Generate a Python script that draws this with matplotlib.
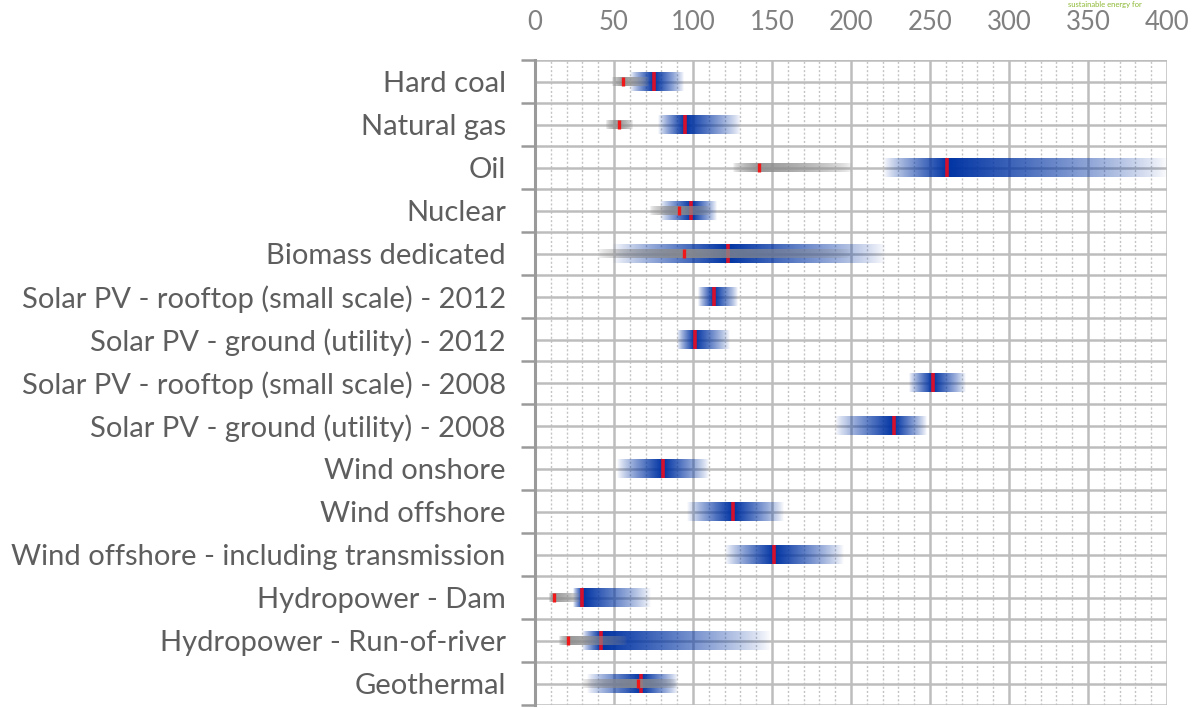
import numpy as np
import matplotlib.pyplot as plt
from matplotlib.colors import to_rgb

# technologies, top to bottom
categories = [
    "Hard coal", "Natural gas", "Oil", "Nuclear", "Biomass dedicated",
    "Solar PV - rooftop (small scale) - 2012",
    "Solar PV - ground (utility) - 2012",
    "Solar PV - rooftop (small scale) - 2008",
    "Solar PV - ground (utility) - 2008",
    "Wind onshore", "Wind offshore", "Wind offshore - including transmission",
    "Hydropower - Dam", "Hydropower - Run-of-river", "Geothermal",
]

# blue range: low, central, high
blue_lo = [60, 78, 220, 79, 49, 103, 90, 237, 190, 52, 96, 120, 24, 30, 33]
blue_mid = [75, 95, 261, 99, 122, 113, 101, 252, 227, 81, 125, 151, 30, 42, 67]
blue_hi = [94, 130, 400, 115, 222, 128, 123, 273, 248, 110, 157, 195, 73, 149, 90]

# grey range (nan = none)
nan = np.nan
grey_lo = [49, 45, 125, 73, 40, nan, nan, nan, nan, nan, nan, nan, 9, 15, 30]
grey_mid = [56, 53, 142, 91, 94, nan, nan, nan, nan, nan, nan, nan, 12, 21, 65]
grey_hi = [72, 62, 200, 111, 200, nan, nan, nan, nan, nan, nan, nan, 28, 58, 90]

x_ticks = [0, 50, 100, 150, 200, 250, 300, 350, 400]

plt.rcParams['font.family'] = ['Lato', 'DejaVu Sans']

fig = plt.figure(figsize=(11.92, 7.08), dpi=100)
ax = fig.add_axes([535 / 1192, 1 - 705 / 708, 632 / 1192, 645 / 708])

blue = to_rgb('#0033a3')
grey = to_rgb('#8c8c8c')


def gradient_bar(lo, mid, hi, yc, h, color, amax, z, power=1.0):
    xs = np.linspace(lo, hi, 400)
    a = np.interp(xs, [lo, mid, hi], [0, 1, 0]) ** power * amax
    img = np.zeros((1, len(xs), 4))
    img[..., :3] = color
    img[..., 3] = a
    ax.imshow(img, extent=[lo, hi, yc + h / 2, yc - h / 2], aspect='auto',
              interpolation='bilinear', zorder=z)


n = len(categories)
for i in range(n):
    yc = i + 0.5
    hb = 0.43
    gradient_bar(blue_lo[i], blue_mid[i], blue_hi[i], yc, hb, blue, 1.0, 3, 0.8)
    ax.plot([blue_mid[i]] * 2, [yc - hb / 2, yc + hb / 2], color='#d4102c',
            lw=2.6, solid_capstyle='butt', zorder=4)
    if not np.isnan(grey_lo[i]):
        hg = 0.2
        gradient_bar(grey_lo[i], grey_mid[i], grey_hi[i], yc, hg, grey, 0.9, 5, 0.5)
        ax.plot([grey_mid[i]] * 2, [yc - hg / 2, yc + hg / 2], color='#f01818',
                lw=2.4, solid_capstyle='butt', zorder=6)

ax.set_xlim(0, 400)
ax.set_ylim(n, 0)

# grid
for v in range(10, 400, 10):
    if v % 50:
        ax.axvline(v, color='#c4c4c4', lw=1.0, ls=(0, (1.5, 1.5)), zorder=1)
for v in x_ticks[1:]:
    ax.axvline(v, color='#bdbdbd', lw=1.8, zorder=1)
for k in range(2 * n + 1):
    ax.axhline(k / 2, color='#bdbdbd', lw=1.8, zorder=1)

ax.xaxis.tick_top()
ax.set_xticks(x_ticks)
ax.set_xticklabels([str(t) for t in x_ticks])
ax.tick_params(axis='x', length=0, pad=18, labelsize=18.5, labelcolor='#808080')

ax.set_yticks(np.arange(0, n + 1))
ax.set_yticklabels([])
ax.set_yticks(np.arange(n) + 0.5, minor=True)
ax.set_yticklabels(categories, minor=True)
ax.tick_params(axis='y', which='major', length=10, width=1.8, color='#9a9a9a')
ax.tick_params(axis='y', which='minor', length=0, pad=21, labelsize=21,
               labelcolor='#5e5e5e')

for s in ['top', 'right', 'bottom']:
    ax.spines[s].set_visible(False)
ax.spines['left'].set_color('#9a9a9a')
ax.spines['left'].set_linewidth(2.2)

fig.text(1068 / 1192, 0.999, "sustainable energy for", color='#8cb832',
         fontsize=5.5, ha='left', va='top')

fig.savefig("out.png", dpi=100)
